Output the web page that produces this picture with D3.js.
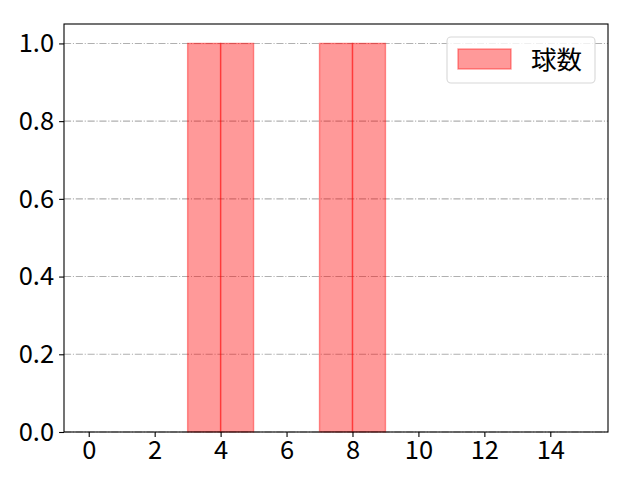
<!DOCTYPE html>
<html>
<head>
<meta charset="utf-8">
<script src="https://cdn.jsdelivr.net/npm/d3@7"></script>
<style>
  body { margin: 0; background: white; }
  text { font-family: "Noto Sans CJK JP", "Noto Sans", sans-serif; }
</style>
</head>
<body>
<svg id="chart" width="640" height="480"></svg>
<script>
// bin edges and counts (histogram, width 1)
var binStarts = [0, 1, 2, 3, 4, 5, 6, 7, 8, 9, 10, 11, 12, 13, 14]
var counts    = [0, 0, 0, 1, 1, 0, 0, 1, 1, 0, 0, 0, 0, 0, 0]
var xTicks = [0, 2, 4, 6, 8, 10, 12, 14]
var yTicks = [0, 0.2, 0.4, 0.6, 0.8, 1.0]
var seriesName = '球数'

var svg = d3.select('#chart')
var pLeft = 64, pRight = 608, pTop = 24, pBottom = 432
var fs = 25.5

var x = d3.scaleLinear().domain([-0.75, 15.75]).range([pLeft, pRight])
var y = d3.scaleLinear().domain([0, 1.05]).range([pBottom, pTop])

// grid
svg.append('g').selectAll('line').data(yTicks).enter().append('line')
    .attr('x1', pLeft).attr('x2', pRight)
    .attr('y1', function(d) { return y(d) }).attr('y2', function(d) { return y(d) })
    .style('stroke', '#b0b0b0')
    .style('stroke-width', 1.1)
    .style('stroke-dasharray', '7.1,1.8,1.1,1.8')

// bars
svg.append('g').selectAll('rect').data(counts).enter().append('rect')
    .attr('x', function(d, i) { return x(binStarts[i]) })
    .attr('width', function(d, i) { return x(binStarts[i] + 1) - x(binStarts[i]) })
    .attr('y', function(d) { return y(d) })
    .attr('height', function(d) { return y(0) - y(d) })
    .style('fill', 'red').style('fill-opacity', 0.4)
    .style('stroke', 'red').style('stroke-opacity', 0.4)
    .style('stroke-width', 1.4)

// axes
var xAxis = d3.axisBottom(x).tickValues(xTicks).tickSize(4.9).tickPadding(4)
    .tickFormat(d3.format('d'))
var yAxis = d3.axisLeft(y).tickValues(yTicks).tickSize(4.9).tickPadding(5)
    .tickFormat(d3.format('.1f'))

var gx = svg.append('g').attr('transform', 'translate(0,' + pBottom + ')').call(xAxis)
var gy = svg.append('g').attr('transform', 'translate(' + pLeft + ',0)').call(yAxis)
gx.select('.domain').remove()
gy.select('.domain').remove()
svg.selectAll('.tick line').style('stroke', 'black').style('stroke-width', 1.1)
svg.selectAll('.tick text').style('font-size', fs + 'px').style('fill', 'black')
    .style('font-family', '"Noto Sans CJK JP", sans-serif')

// frame
svg.append('rect')
    .attr('x', pLeft).attr('y', pTop)
    .attr('width', pRight - pLeft).attr('height', pBottom - pTop)
    .style('fill', 'none').style('stroke', 'black').style('stroke-width', 1.1)

// legend
var lg = svg.append('g')
lg.append('rect')
    .attr('x', 447).attr('y', 37).attr('width', 148).attr('height', 46)
    .attr('rx', 4)
    .style('fill', 'white').style('fill-opacity', 0.8)
    .style('stroke', '#d8d8d8').style('stroke-width', 1.1)
lg.append('rect')
    .attr('x', 458).attr('y', 49).attr('width', 53).attr('height', 20)
    .style('fill', 'red').style('fill-opacity', 0.4)
    .style('stroke', 'red').style('stroke-opacity', 0.4).style('stroke-width', 1.4)
lg.append('text')
    .attr('x', 531).attr('y', 60).attr('dy', '0.35em')
    .style('font-size', fs + 'px')
    .text(seriesName)
</script>
</body>
</html>
